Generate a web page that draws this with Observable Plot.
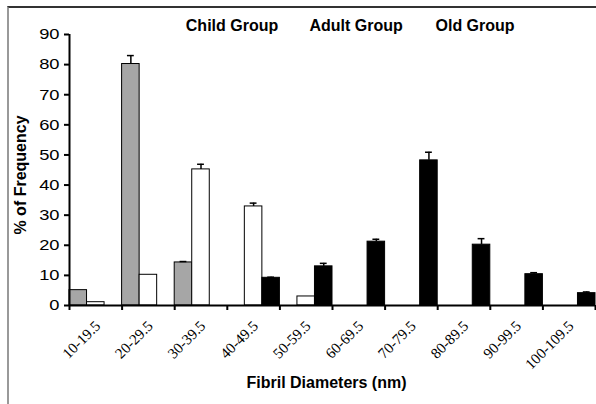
<!DOCTYPE html>
<html><head><meta charset="utf-8">
<script src="https://cdn.jsdelivr.net/npm/d3@7"></script>
<script src="https://cdn.jsdelivr.net/npm/@observablehq/plot@0.6"></script>
<style>
body{margin:0;background:#fff;}
#wrap{position:relative;width:596px;height:404px;overflow:hidden;}
#wrap svg{position:absolute;left:0;top:0;}
#border{position:absolute;left:7px;top:6px;right:-2px;bottom:-2px;border-top:2px solid #333;border-left:2px solid #999;pointer-events:none;}
</style></head><body><div id="wrap"><div id="border"></div></div>
<script>
const categories = ["10-19.5","20-29.5","30-39.5","40-49.5","50-59.5","60-69.5","70-79.5","80-89.5","90-99.5","100-109.5"];
const groups = ["Child Group","Adult Group","Old Group"];
const childValues = [5.1, 80.2, 14.3, 0, 0, 0, 0, 0, 0, 0];
const childErrors = [0, 2.8, 0.3, 0, 0, 0, 0, 0, 0, 0];
const adultValues = [1.1, 10.2, 45.2, 32.9, 3, 0, 0, 0, 0, 0];
const adultErrors = [0, 0, 1.7, 1.1, 0, 0, 0, 0, 0, 0];
const oldValues = [0, 0, 0, 9.2, 13, 21.2, 48.2, 20.2, 10.4, 4.1];
const oldErrors = [0, 0, 0, 0.2, 1.0, 0.8, 2.7, 2.0, 0.5, 0.4];
const yTicks = [0, 10, 20, 30, 40, 50, 60, 70, 80, 90];
const groupLabelAnchors = [3.09, 5.45, 7.71];
const xTitle = "Fibril Diameters (nm)";
const yTitle = "% of Frequency";

const series = [childValues, adultValues, oldValues];
const errs = [childErrors, adultErrors, oldErrors];
const rows = [];
groups.forEach((g, gi) => categories.forEach((c, i) => {
  const v = series[gi][i];
  if (v > 0) rows.push({cat: c, i, g, gi, v, e: errs[gi][i]});
}));
const errRows = rows.filter(d => d.e > 0);
const center = d => d.i + (d.gi + 0.5) / 3;
const cap = 0.065;

const chart = Plot.plot({
  width: 596, height: 404,
  marginLeft: 69, marginRight: 1, marginTop: 34, marginBottom: 99,
  style: {fontFamily: "'Liberation Sans', Arial, sans-serif", background: "#fff", color: "#000"},
  x: {domain: [0, categories.length], axis: null},
  y: {domain: [0, 90], axis: null},
  color: {domain: groups, range: ["#a6a6a6", "#ffffff", "#000000"]},
  marks: [
    Plot.rectY(rows, {x1: d => d.i + d.gi / 3, x2: d => d.i + (d.gi + 1) / 3, y1: 0, y2: "v", fill: "g", stroke: "#000", strokeWidth: 1}),
    Plot.ruleX(errRows, {x: center, y1: "v", y2: d => d.v + d.e, stroke: "#000", strokeWidth: 1.5}),
    Plot.ruleY(errRows, {y: d => d.v + d.e, x1: d => center(d) - cap, x2: d => center(d) + cap, stroke: "#000", strokeWidth: 1.5}),
    Plot.axisY({ticks: yTicks, tickSize: 5, tickPadding: 5, fontSize: 15, strokeWidth: 2, label: null}),
    Plot.axisX({ticks: d3.range(categories.length + 1), tickSize: 5, tickFormat: () => "", strokeWidth: 2, label: null}),
    Plot.ruleY([0], {stroke: "#000", strokeWidth: 2}),
    Plot.ruleX([0], {y1: 0, y2: 90, stroke: "#000", strokeWidth: 2}),
    Plot.text(categories, {x: (d, i) => i + 0.5, frameAnchor: "bottom", rotate: -45, textAnchor: "end", lineAnchor: "middle", dx: 2, dy: 18, fontFamily: "'Liberation Serif', 'Times New Roman', serif", fontSize: 15, fill: "#000"}),
    Plot.text(groups, {x: (d, i) => groupLabelAnchors[i], frameAnchor: "top", textAnchor: "middle", lineAnchor: "middle", dy: -9, fontSize: 16, fontWeight: "bold", fill: "#000"}),
    Plot.text([xTitle], {frameAnchor: "bottom", textAnchor: "middle", lineAnchor: "middle", dx: -6, dy: 77, fontSize: 16, fontWeight: "bold", fill: "#000"}),
    Plot.text([yTitle], {frameAnchor: "left", rotate: -90, textAnchor: "middle", lineAnchor: "middle", dx: -49, dy: 5, fontSize: 16, fontWeight: "bold", fill: "#000"})
  ]
});
document.getElementById("wrap").prepend(chart);
d3.select(chart).selectAll("g[aria-label='y-axis tick label'] text").each(function() {
  const w = this.getComputedTextLength();
  d3.select(this).attr("textLength", w * 1.22).attr("lengthAdjust", "spacingAndGlyphs");
});
</script>
</body></html>
